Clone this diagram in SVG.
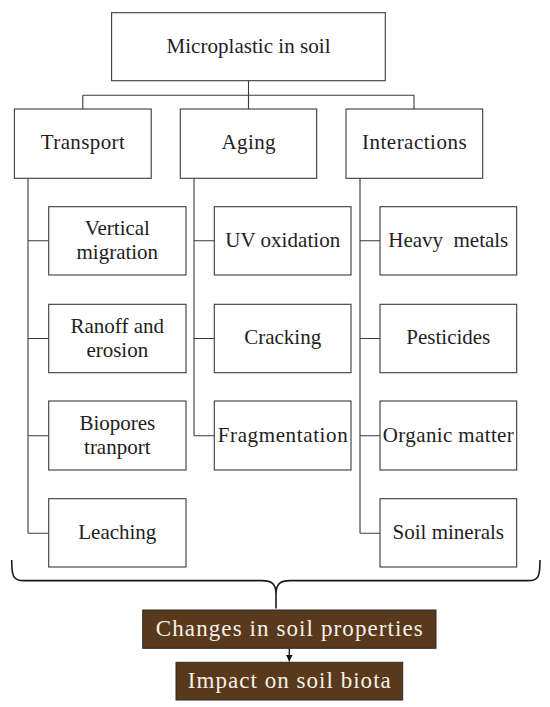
<svg xmlns="http://www.w3.org/2000/svg" width="550" height="707" viewBox="0 0 550 707">
<style>
.box{fill:#fff;stroke:#3a3a3a;stroke-width:1.1}
.dbox{fill:#59391b;stroke:#2a2a2a;stroke-width:1}
.t{font-size:21px;fill:#1e1e1e;text-anchor:middle}
.w{font-size:23px;fill:#f6f1e9;text-anchor:middle}
.ln{fill:none;stroke:#3a3a3a;stroke-width:1.1}
.br{fill:none;stroke:#1a1a1a;stroke-width:1.6}
</style>
<defs>
<marker id="ah" viewBox="0 0 10 10" refX="10" refY="5" markerWidth="5" markerHeight="5" orient="auto">
<path d="M0,0 L10,5 L0,10 z" fill="#111"/>
</marker>
</defs>
<g id="connectors">
<path class="ln" d="M248.5,80.7 V95.3 M82.8,95.3 H414 M82.8,95.3 V109 M248.5,95.3 V109 M414,95.3 V109"/>
<path class="ln" d="M28,178.3 V533.3 M28,240.8 H48.7 M28,338.5 H48.7 M28,435.7 H48.7 M28,533.3 H48.7"/>
<path class="ln" d="M194,178.3 V435.7 M194,240.8 H214.3 M194,338.5 H214.3 M194,435.7 H214.3"/>
<path class="ln" d="M360,178.3 V533.3 M360,240.8 H380 M360,338.5 H380 M360,435.7 H380 M360,533.3 H380"/>
<path class="br" d="M11.7,560 C11.7,576 13,580.6 24,580.6 L262,580.6 C272,580.6 276,584 276,594 L276,608.5 M276,594 C276,584 280,580.6 290,580.6 L528,580.6 C539,580.6 540,576 540,560"/>
<line x1="289.3" y1="648.3" x2="289.3" y2="661.5" stroke="#111" stroke-width="1.3" marker-end="url(#ah)"/>
</g>
<g font-family="Liberation Serif, DejaVu Serif, serif">
<g id="microplastic">
<rect class="box" x="111.6" y="12.7" width="273.7" height="68"/>
<text class="t" x="248.5" y="52.7" textLength="164">Microplastic in soil</text>
</g>
<g id="transport">
<rect class="box" x="14.4" y="109" width="136.8" height="69.3"/>
<text class="t" x="82.8" y="149.3" textLength="84">Transport</text>
</g>
<g id="aging">
<rect class="box" x="180.3" y="109" width="136.4" height="69.3"/>
<text class="t" x="248.5" y="149.3" textLength="54">Aging</text>
</g>
<g id="interactions">
<rect class="box" x="346" y="109" width="136.7" height="69.3"/>
<text class="t" x="414.3" y="149.3" textLength="104.6">Interactions</text>
</g>
<g id="vertical-migration">
<rect class="box" x="48.7" y="206.7" width="137.3" height="68.3"/>
<text class="t" x="117.3" y="235">Vertical</text>
<text class="t" x="117.3" y="259">migration</text>
</g>
<g id="ranoff-erosion">
<rect class="box" x="48.7" y="304.3" width="137.3" height="68.4"/>
<text class="t" x="117.3" y="332.7">Ranoff and</text>
<text class="t" x="117.3" y="356.7">erosion</text>
</g>
<g id="biopores">
<rect class="box" x="48.7" y="401" width="137.3" height="69"/>
<text class="t" x="117.3" y="429.7">Biopores</text>
<text class="t" x="117.3" y="453.7">tranport</text>
</g>
<g id="leaching">
<rect class="box" x="48.7" y="498.7" width="137.3" height="68.3"/>
<text class="t" x="117.3" y="539">Leaching</text>
</g>
<g id="uv-oxidation">
<rect class="box" x="214.3" y="206.7" width="136.7" height="68.3"/>
<text class="t" x="282.7" y="246.7" textLength="115">UV oxidation</text>
</g>
<g id="cracking">
<rect class="box" x="214.3" y="304.3" width="136.7" height="68.4"/>
<text class="t" x="282.7" y="344.4">Cracking</text>
</g>
<g id="fragmentation">
<rect class="box" x="214.3" y="401" width="136.7" height="69"/>
<text class="t" x="282.7" y="441.5" textLength="130">Fragmentation</text>
</g>
<g id="heavy-metals">
<rect class="box" x="380" y="206.7" width="136.7" height="68.3"/>
<text class="t" x="448.3" y="246.7" textLength="120" xml:space="preserve">Heavy  metals</text>
</g>
<g id="pesticides">
<rect class="box" x="380" y="304.3" width="136.7" height="68.4"/>
<text class="t" x="448.3" y="344.4">Pesticides</text>
</g>
<g id="organic-matter">
<rect class="box" x="380" y="401" width="136.7" height="69"/>
<text class="t" x="448.3" y="441.5" textLength="131">Organic matter</text>
</g>
<g id="soil-minerals">
<rect class="box" x="380" y="498.7" width="136.7" height="68.3"/>
<text class="t" x="448.3" y="539">Soil minerals</text>
</g>
<g id="changes">
<rect class="dbox" x="142.7" y="610" width="293.3" height="38.3"/>
<text class="w" x="289.3" y="636" textLength="267">Changes in soil properties</text>
</g>
<g id="impact">
<rect class="dbox" x="176" y="662.3" width="226.7" height="37.7"/>
<text class="w" x="289.3" y="688" textLength="203">Impact on soil biota</text>
</g>
</g>
</svg>
